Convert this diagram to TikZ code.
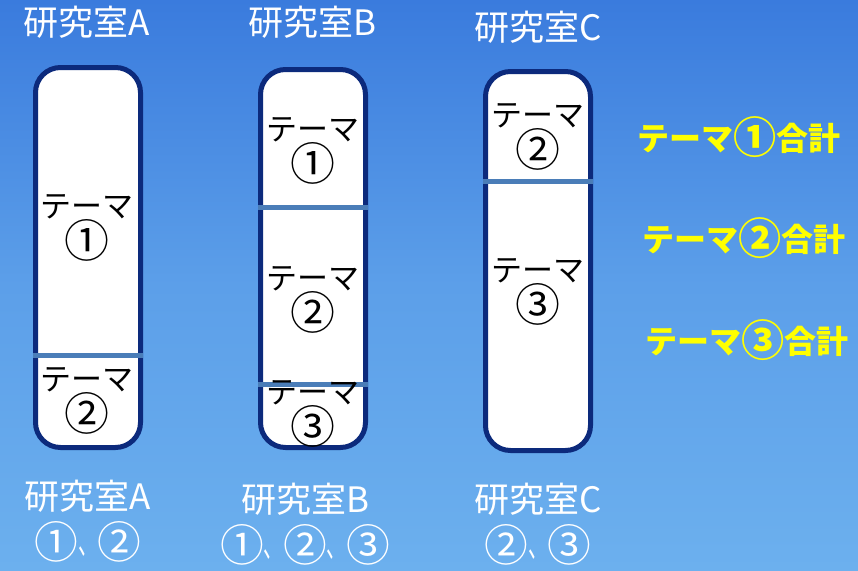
\documentclass[tikz,border=0pt]{standalone}
\usepackage{fontspec}
\newfontfamily\cjk{Noto Sans CJK JP}
\definecolor{skytop}{HTML}{3A7BDD}
\definecolor{skymid}{HTML}{5C9FE9}
\definecolor{skybot}{HTML}{6CB0EE}
\definecolor{navy}{HTML}{0C2A7C}
\definecolor{divider}{HTML}{4A7DB8}
\definecolor{sumyellow}{HTML}{FFFF00}
\newcommand\cnum[1]{\raisebox{-0.12em}{\scalebox{1.45}{#1}}}
\newcommand\lnum[1]{\raisebox{-0.1em}{\scalebox{1.25}{#1}}}
\newcommand\tnum[1]{\raisebox{-0.1em}{\scalebox{1.35}{#1}}}
\newcommand\tten{\scalebox{0.55}[1]{、}}
\begin{document}
\begin{tikzpicture}[x=1pt,y=-1pt,
  room/.style={draw=navy,line width=5pt,fill=white,rounded corners=25pt,
    minimum width=105pt,inner sep=0pt,outer sep=0pt},
  divline/.style={draw=divider,line width=5pt},
  theme/.style={font=\cjk\fontsize{31}{34}\selectfont,align=center,text=black,inner sep=0pt},
  label/.style={font=\cjk\fontsize{35}{46}\selectfont,text=white,align=center,inner sep=0pt},
  total/.style={font=\cjk\bfseries\fontsize{32}{36}\selectfont,text=sumyellow,inner sep=0pt}]
\useasboundingbox (0,0) rectangle (858,570);
\shade[top color=skytop,bottom color=skybot,middle color=skymid] (0,0) rectangle (858,570);
% boxes
\node[room,minimum height=380pt] (boxA) at (88,257.5) {};
\node[room,minimum height=378pt] (boxB) at (313,258.5) {};
\node[room,minimum height=379pt] (boxC) at (538,261) {};
% dividers
\draw[divline] ([xshift=-2.5pt]boxA.west |- 0,355) coordinate (a1) -- ([xshift=2.5pt]boxA.east |- 0,355) coordinate (a2);
\draw[divline] ([xshift=-2.5pt]boxB.west |- 0,207) coordinate (b1) -- ([xshift=2.5pt]boxB.east |- 0,207) coordinate (b2);
\draw[divline] ([xshift=-2.5pt]boxB.west |- 0,384) coordinate (b3) -- ([xshift=2.5pt]boxB.east |- 0,384) coordinate (b4);
\draw[divline] ([xshift=-2.5pt]boxC.west |- 0,181) coordinate (c1) -- ([xshift=2.5pt]boxC.east |- 0,181) coordinate (c2);
% themes
\node[theme] (tA1) at (87,228) {テーマ\\\cnum{①}};
\node[theme] (tA2) at (87,401) {テーマ\\\cnum{②}};
\node[theme] (tB1) at (313,151) {テーマ\\\cnum{①}};
\node[theme] (tB2) at (313,300) {テーマ\\\cnum{②}};
\node[theme] (tB3) at (313,414) {テーマ\\\cnum{③}};
\node[theme] (tC1) at (538,137) {テーマ\\\cnum{②}};
\node[theme] (tC2) at (538,292) {テーマ\\\cnum{③}};
% top labels
\node[label] (topA) at (87,22) {研究室A};
\node[label] (topB) at (312,22) {研究室B};
\node[label] (topC) at (538,27) {研究室C};
% bottom labels
\node[label,font=\cjk\fontsize{35}{45}\selectfont] (botA) at (88,521) {研究室A\\\lnum{①}\tten\lnum{②}};
\node[label,font=\cjk\fontsize{35}{45}\selectfont] (botB) at (305,524) {研究室B\\\lnum{①}\tten\lnum{②}\tten\lnum{③}};
\node[label,font=\cjk\fontsize{35}{45}\selectfont] (botC) at (538,524) {研究室C\\\lnum{②}\tten\lnum{③}};
% totals
\node[total] (sum1) at (739,137) {テーマ\tnum{①}合計};
\node[total] (sum2) at (744,238) {テーマ\tnum{②}合計};
\node[total] (sum3) at (747,340) {テーマ\tnum{③}合計};
\end{tikzpicture}
\end{document}
